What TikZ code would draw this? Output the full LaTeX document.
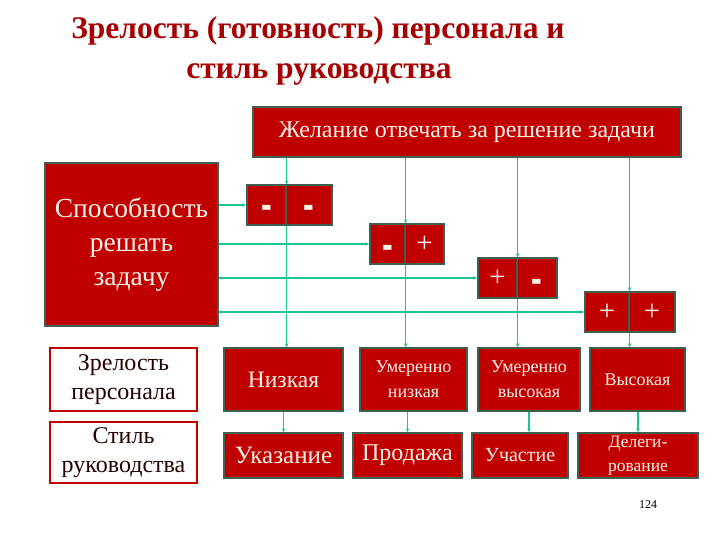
\documentclass[tikz,border=0pt]{standalone}
\usepackage{fontspec}
\usepackage{graphicx}
\setmainfont{Liberation Serif}
\usetikzlibrary{arrows.meta}
\pgfdeclarelayer{bg}
\pgfsetlayers{bg,main}
\definecolor{boxred}{RGB}{192,0,0}
\definecolor{boxline}{RGB}{62,96,82}
\definecolor{linkgreen}{RGB}{28,198,148}
\definecolor{titlered}{RGB}{168,0,0}
\definecolor{paletext}{RGB}{255,242,232}
\tikzset{
  redbox/.style={draw=boxline, fill=boxred, line width=1.4pt, text=paletext, align=center, inner sep=0pt},
  labelbox/.style={draw=boxred, fill=white, line width=1.4pt, text=black!85!red, align=center, inner sep=0pt},
  signbox/.style={draw=boxline, fill=boxred, line width=1.4pt, text=paletext, inner sep=0pt, minimum height=40pt, font=\fontsize{29}{29}\selectfont},
  link/.style={draw=linkgreen, line width=1.3pt, -{Stealth[length=4pt,width=3.5pt]}},
}
\newcommand{\mn}{\smash{\raisebox{-17pt}{\scalebox{1.1}[2]{\textbf{-}}}}}

\begin{document}
\begin{tikzpicture}[x=1pt, y=-1pt]
        \useasboundingbox (0,0) rectangle (720,540);
        \node (title1) [anchor=base, text=titlered, font=\fontsize{31.5}{40}\bfseries] at (318, 39) {Зрелость (готовность) персонала и};
        \node (title2) [anchor=base, text=titlered, font=\fontsize{31.5}{40}\bfseries] at (319, 79) {стиль руководства};
        \node (will) [redbox, minimum width=428pt, minimum height=50pt, font=\fontsize{24}{28}\selectfont] at (467, 132) {Желание отвечать за решение задачи};
        \node (able) [redbox, minimum width=173pt, minimum height=163pt, font=\fontsize{27.5}{34}\selectfont] at (131.5, 244.5) {Способность\\решать\\задачу};
        \node (s1a) [signbox, minimum width=39pt] at (266.5, 205) {\mn};
        \node (s1b) [signbox, minimum width=46pt] at (309, 205) {\mn};
        \node (s2a) [signbox, minimum width=35pt] at (387.5, 244) {\mn};
        \node (s2b) [signbox, minimum width=39pt] at (424.5, 244) {+};
        \node (s3a) [signbox, minimum width=39pt] at (497.5, 278) {+};
        \node (s3b) [signbox, minimum width=40pt] at (537, 278) {\mn};
        \node (s4a) [signbox, minimum width=44pt] at (607, 312) {+};
        \node (s4b) [signbox, minimum width=46pt] at (652, 312) {+};
        \node (matlbl) [labelbox, minimum width=147pt, minimum height=63pt, font=\fontsize{24}{29}\selectfont] at (123.5, 379.5) {Зрелость\\персонала};
        \node (stylbl) [labelbox, minimum width=147pt, minimum height=61pt, font=\fontsize{24}{29}\selectfont] at (123.5, 452.5) {Стиль\\руководства};
        \node (mlow) [redbox, minimum width=119pt, minimum height=63pt, font=\fontsize{23.5}{27}\selectfont] at (283.5, 379.5) {Низкая};
        \node (mmidlow) [redbox, minimum width=107pt, minimum height=63pt, font=\fontsize{18}{25}\selectfont] at (413.5, 379.5) {Умеренно\\низкая};
        \node (mmidhigh) [redbox, minimum width=102pt, minimum height=63pt, font=\fontsize{18}{25}\selectfont] at (529, 379.5) {Умеренно\\высокая};
        \node (mhigh) [redbox, minimum width=95pt, minimum height=63pt, font=\fontsize{18}{24}\selectfont] at (637.5, 379.5) {Высокая};
        \node (sdirect) [redbox, minimum width=119pt, minimum height=45pt, font=\fontsize{25}{28}\selectfont] at (283.5, 455.5) {Указание};
        \node (ssell) [redbox, minimum width=109pt, minimum height=45pt, font=\fontsize{24}{28}\selectfont] at (407.5, 455.5) {Продажа};
        \node (spart) [redbox, minimum width=96pt, minimum height=45pt, font=\fontsize{20}{24}\selectfont] at (520, 455.5) {Участие};
        \node (sdeleg) [redbox, minimum width=120pt, minimum height=45pt, font=\fontsize{17.5}{24}\selectfont] at (638, 455.5) {Делеги-\\рование};
        \node (pageno) [font=\fontsize{12}{14}\selectfont] at (648, 505) {124};
        \begin{pgfonlayer}{bg}
                \draw (will.south -| s1a.east) edge [link] (s1a.north east);
                \draw (will.south -| s2a.east) edge [link] (s2a.north east);
                \draw (will.south -| s3a.east) edge [link] (s3a.north east);
                \draw (will.south -| s4a.east) edge [link] (s4a.north east);
                \draw (able.east |- s1a.west) edge [link] (s1a.west);
                \draw (able.east |- s2a.west) edge [link] (s2a.west);
                \draw (able.east |- s3a.west) edge [link] (s3a.west);
                \draw (able.east |- s4a.west) edge [link] (s4a.west);
                \draw (s1a.south east) edge [link] (s1a.south east |- mlow.north);
                \draw (s2a.south east) edge [link] (s2a.south east |- mmidlow.north);
                \draw (s3a.south east) edge [link] (s3a.south east |- mmidhigh.north);
                \draw (s4a.south east) edge [link] (s4a.south east |- mhigh.north);
                \draw (mlow.south) edge [link] (sdirect.north);
                \draw (mmidlow.south -| ssell.north) edge [link] (ssell.north);
                \draw (mmidhigh.south) edge [link] (spart.north -| mmidhigh.south);
                \draw (mhigh.south -| sdeleg.north) edge [link] (sdeleg.north);
        \end{pgfonlayer}
\end{tikzpicture}
\end{document}
